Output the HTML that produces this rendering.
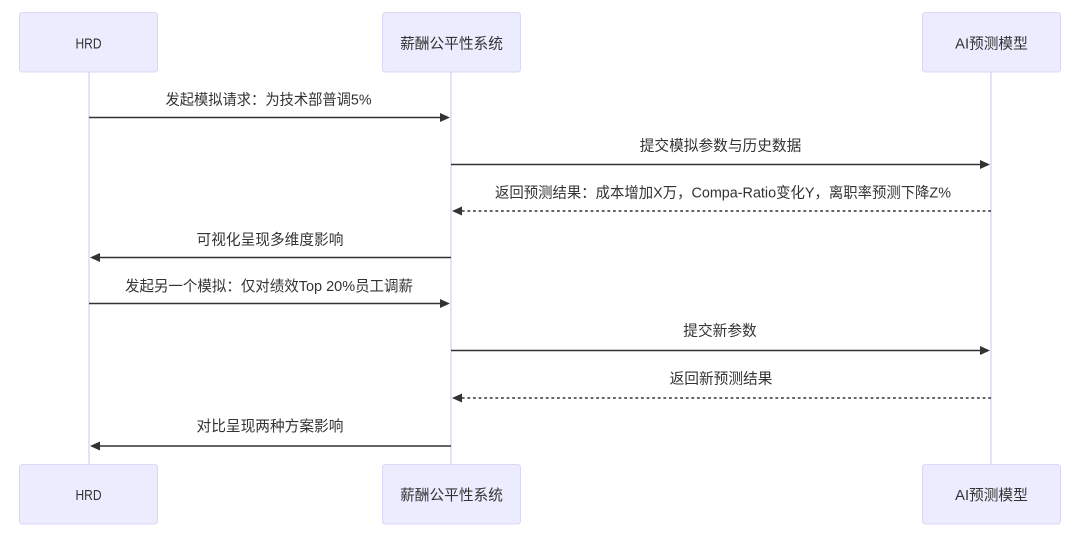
<!DOCTYPE html>
<html>
<head>
<meta charset="utf-8">
<style>
  html, body { margin: 0; padding: 0; background: #ffffff; }
  body { width: 1075px; height: 538px; overflow: hidden; }
  svg { display: block; }
  text { font-family: "Liberation Sans", "Noto Sans CJK SC", sans-serif; fill: #333333; font-size: 14.7px; }
</style>
</head>
<body>
<svg width="1075" height="538" viewBox="0 0 1075 538" xmlns="http://www.w3.org/2000/svg">
  <!-- lifelines -->
  <g stroke="#ddd6f8" stroke-width="1.5">
    <line x1="89" y1="72" x2="89" y2="464"/>
    <line x1="451" y1="72" x2="451" y2="464"/>
    <line x1="991" y1="72" x2="991" y2="464"/>
  </g>

  <!-- top actor boxes -->
  <g fill="#ececff" stroke="#dcd5f5" stroke-width="1">
    <rect x="19.5" y="12.5" width="138" height="59.5" rx="3"/>
    <rect x="382.5" y="12.5" width="138" height="59.5" rx="3"/>
    <rect x="922.5" y="12.5" width="138" height="59.5" rx="3"/>
    <rect x="19.5" y="464.5" width="138" height="59.5" rx="3"/>
    <rect x="382.5" y="464.5" width="138" height="59.5" rx="3"/>
    <rect x="922.5" y="464.5" width="138" height="59.5" rx="3"/>
  </g>
  <g text-anchor="middle">
    <text x="88.5" y="48.5" textLength="26" lengthAdjust="spacingAndGlyphs">HRD</text>
    <text x="451.5" y="48.5">薪酬公平性系统</text>
    <text x="991.5" y="48.5">AI预测模型</text>
    <text x="88.5" y="500" textLength="26" lengthAdjust="spacingAndGlyphs">HRD</text>
    <text x="451.5" y="500">薪酬公平性系统</text>
    <text x="991.5" y="500">AI预测模型</text>
  </g>

  <!-- message lines -->
  <g stroke="#333333" stroke-width="1.4" fill="none">
    <line x1="89" y1="117.5" x2="442" y2="117.5"/>
    <line x1="451" y1="164.5" x2="982" y2="164.5"/>
    <line x1="991" y1="211" x2="460" y2="211" stroke-dasharray="2.8,2.8"/>
    <line x1="451" y1="257.5" x2="98" y2="257.5"/>
    <line x1="89" y1="303.5" x2="442" y2="303.5"/>
    <line x1="451" y1="350.5" x2="982" y2="350.5"/>
    <line x1="991" y1="398" x2="460" y2="398" stroke-dasharray="2.8,2.8"/>
    <line x1="451" y1="446" x2="98" y2="446"/>
  </g>
  <!-- arrowheads -->
  <g fill="#333333">
    <polygon points="450,117.5 440,113 440,122"/>
    <polygon points="990,164.5 980,160 980,169"/>
    <polygon points="452,211 462,206.5 462,215.5"/>
    <polygon points="90,257.5 100,253 100,262"/>
    <polygon points="450,303.5 440,299 440,308"/>
    <polygon points="990,350.5 980,346 980,355"/>
    <polygon points="452,398 462,393.5 462,402.5"/>
    <polygon points="90,446 100,441.5 100,450.5"/>
  </g>

  <!-- message labels -->
  <g text-anchor="middle">
    <text x="268.5" y="104.5" textLength="206" lengthAdjust="spacingAndGlyphs">发起模拟请求：为技术部普调5%</text>
    <text x="720.5" y="150.5">提交模拟参数与历史数据</text>
    <text x="723" y="197.5" textLength="456" lengthAdjust="spacingAndGlyphs">返回预测结果：成本增加X万，Compa-Ratio变化Y，离职率预测下降Z%</text>
    <text x="270" y="244.5">可视化呈现多维度影响</text>
    <text x="269" y="291" textLength="288" lengthAdjust="spacingAndGlyphs">发起另一个模拟：仅对绩效Top 20%员工调薪</text>
    <text x="720" y="335.5">提交新参数</text>
    <text x="721" y="383.5">返回新预测结果</text>
    <text x="270" y="431">对比呈现两种方案影响</text>
  </g>
</svg>
</body>
</html>
